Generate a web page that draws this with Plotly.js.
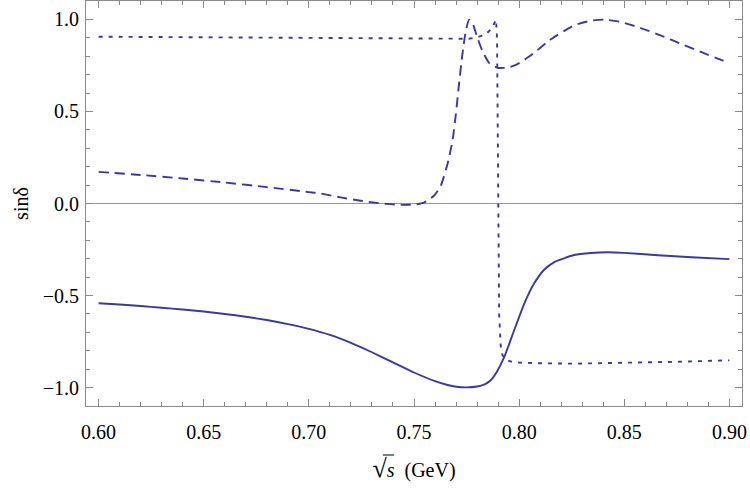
<!DOCTYPE html>
<html>
<head>
<meta charset="utf-8">
<script src="https://cdn.plot.ly/plotly-3.0.1.min.js"></script>
<style>
  html, body { margin: 0; padding: 0; background: #fff; }
  #chart { width: 750px; height: 496px; }
</style>
</head>
<body>
<div id="chart"></div>
<script>
// sin(delta) versus sqrt(s) for three partial waves
const solidX = [0.600, 0.610, 0.620, 0.630, 0.640, 0.650, 0.660, 0.670, 0.680, 0.690, 0.700, 0.710, 0.720, 0.730, 0.740, 0.750, 0.760, 0.766, 0.771, 0.775, 0.7800, 0.7833, 0.7865, 0.7895, 0.7929, 0.7976, 0.8024, 0.8071, 0.8119, 0.8167, 0.8262, 0.8341, 0.8421, 0.850, 0.866, 0.882, 0.900];
const solidY = [-0.542, -0.549, -0.557, -0.566, -0.576, -0.587, -0.600, -0.615, -0.633, -0.655, -0.681, -0.714, -0.757, -0.808, -0.863, -0.918, -0.965, -0.986, -0.997, -0.999, -0.994, -0.984, -0.960, -0.912, -0.835, -0.690, -0.545, -0.435, -0.360, -0.318, -0.280, -0.269, -0.265, -0.268, -0.281, -0.292, -0.302];

const dashedX = [0.600, 0.620, 0.640, 0.660, 0.680, 0.700, 0.7056, 0.7151, 0.7246, 0.7341, 0.7437, 0.750, 0.7548, 0.7595, 0.7627, 0.7659, 0.7683, 0.7699, 0.7714, 0.7730, 0.7746, 0.7762, 0.7778, 0.7802, 0.7826, 0.7857, 0.7897, 0.7945, 0.7992, 0.8056, 0.8151, 0.8262, 0.8341, 0.8405, 0.8484, 0.8579, 0.8675, 0.8770, 0.8865, 0.8968, 0.900];
const dashedY = [0.172, 0.155, 0.136, 0.114, 0.089, 0.062, 0.054, 0.033, 0.015, 0.001, -0.007, -0.006, 0.005, 0.042, 0.095, 0.213, 0.340, 0.484, 0.647, 0.809, 0.936, 0.999, 0.981, 0.899, 0.827, 0.764, 0.737, 0.738, 0.757, 0.805, 0.892, 0.968, 0.993, 0.999, 0.986, 0.953, 0.912, 0.867, 0.823, 0.777, 0.765];

const dottedX = [0.600, 0.650, 0.700, 0.740, 0.770, 0.776, 0.780, 0.784, 0.787, 0.7885, 0.7890, 0.7895, 0.7898, 0.7901, 0.7905, 0.7912, 0.7921, 0.7940, 0.7960, 0.800, 0.810, 0.826, 0.850, 0.874, 0.900];
const dottedY = [0.906, 0.902, 0.898, 0.895, 0.894, 0.895, 0.903, 0.918, 0.950, 0.985, 0.999, 0.900, 0.300, -0.300, -0.600, -0.770, -0.825, -0.850, -0.858, -0.864, -0.868, -0.870, -0.867, -0.860, -0.852];

const xTickLabels = ["0.60", "0.65", "0.70", "0.75", "0.80", "0.85", "0.90"];
const yTickLabels = ["\u22121.0", "\u22120.5", "0.0", "0.5", "1.0"];
const xTickVals = [0.60, 0.65, 0.70, 0.75, 0.80, 0.85, 0.90];
const yTickVals = [-1.0, -0.5, 0.0, 0.5, 1.0];

const lineColor = '#3838a8';
const frameColor = '#8a8a8a';
const serif = 'Liberation Serif';

const traces = [
  { x: solidX, y: solidY, mode: 'lines', line: { color: lineColor, width: 1.9, shape: 'spline', smoothing: 0.5 } },
  { x: dashedX, y: dashedY, mode: 'lines', line: { color: lineColor, width: 1.9, dash: '10px,6px', shape: 'spline', smoothing: 0.5 } },
  { x: dottedX, y: dottedY, mode: 'lines', line: { color: lineColor, width: 1.9, dash: '4px,6px' } }
];

const axisCommon = {
  showline: true, linecolor: frameColor, linewidth: 1, mirror: 'allticks',
  ticks: 'inside', ticklen: 7, tickwidth: 1, tickcolor: frameColor,
  showgrid: false, tickfont: { family: serif, size: 20, color: '#000' }
};

const layout = {
  width: 750, height: 496,
  margin: { l: 86, r: 8, t: 1, b: 90 },
  paper_bgcolor: '#fff', plot_bgcolor: '#fff',
  showlegend: false,
  font: { family: serif, size: 20, color: '#000' },
  xaxis: Object.assign({}, axisCommon, {
    range: [0.594, 0.906],
    tickvals: xTickVals, ticktext: xTickLabels,
    zeroline: false,
    minor: { dtick: 0.01, tick0: 0.6, ticks: 'inside', ticklen: 4, tickcolor: frameColor, showgrid: false },
    ticklabelstandoff: 8,
    title: { text: '<span style="font-size:26px">\u221A</span><i>s</i>  (GeV)', font: { family: serif, size: 20, color: '#000' }, standoff: 20 }
  }),
  yaxis: Object.assign({}, axisCommon, {
    range: [-1.1, 1.1],
    tickvals: yTickVals, ticktext: yTickLabels,
    zeroline: true, zerolinecolor: '#999', zerolinewidth: 1,
    minor: { dtick: 0.1, tick0: 0, ticks: 'inside', ticklen: 4, tickcolor: frameColor, showgrid: false },
    ticklabelstandoff: 2,
    title: { text: 'sin\u03B4', font: { family: serif, size: 20, color: '#000' }, standoff: 8 }
  }),
  // overbar of the square root in the x-axis title
  shapes: [
    { type: 'line', xref: 'paper', yref: 'paper', x0: 0.4527, x1: 0.4695, y0: -0.121, y1: -0.121,
      line: { color: '#000', width: 1 } }
  ]
};

Plotly.newPlot('chart', traces, layout, { staticPlot: true, displayModeBar: false });
</script>
</body>
</html>
